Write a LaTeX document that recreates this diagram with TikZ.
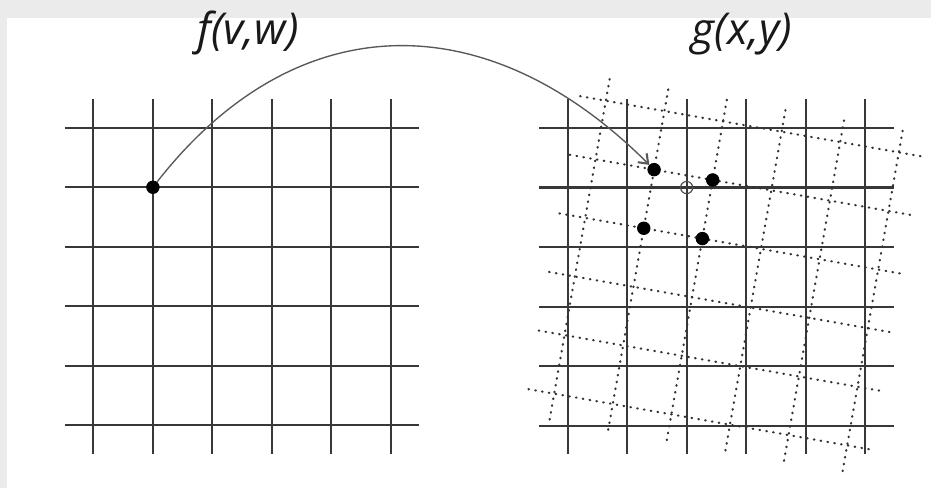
\documentclass[tikz,border=0pt]{standalone}
\usepackage{fontspec}
\setsansfont{Open Sans}
\usetikzlibrary{arrows.meta}
\begin{document}
\begin{tikzpicture}[
    gridSolid/.style={draw=black!78,line width=1pt},
    gridWarped/.style={draw=black!80,line width=1.05pt,line cap=round,
                       dash pattern=on 0.3pt off 3pt},
    sampleDot/.style={circle,fill=black,draw=black,
                      minimum size=6pt,inner sep=0pt},
    targetRing/.style={circle,draw=black!70,line width=0.55pt,
                       minimum size=5.8pt,inner sep=0pt},
    mapArrow/.style={draw=black!65,line width=0.65pt,
                     -{Straight Barb[length=4pt,width=6pt,line width=1pt]}},
    funLabel/.style={font=\sffamily\itshape\fontsize{21}{25}\selectfont,
                     text=black!90,anchor=base,inner sep=0pt}]
    % page and frame
    \fill[black!8] (0,0) rectangle (15.647,8.202);
    \fill[white] (0.118,0) rectangle (15.647,7.9);
    \useasboundingbox (0,0) rectangle (15.647,8.202);
    % the two regular grids
    \coordinate (gL) at (1.57,1.055);
    \coordinate (gR) at (9.54,1.05);
    \foreach \g in {gL,gR}{
        \foreach \k in {0,...,5}{
            \draw[gridSolid] (\g) ++(\k,-0.48) -- ++(0,5.96);
            \draw[gridSolid] (\g) ++(-0.48,\k) -- ++(5.96,0);
        }
    }
    % warped grid with its samples
    \begin{scope}[shift={(12.21,3.613)},rotate=-10]
        \foreach \k in {-2.5,-1.5,...,2.5}{
            \draw[gridWarped] (\k,-2.94) -- (\k,2.94);
            \draw[gridWarped] (-2.94,\k) -- (2.94,\k);
        }
        \node[sampleDot] (dst)  at (-1.5,1.5) {};
        \node[sampleDot] (nbE)  at (-0.5,1.5) {};
        \node[sampleDot] (nbS)  at (-1.5,0.5) {};
        \node[sampleDot] (nbSE) at (-0.5,0.5) {};
    \end{scope}
    \path (gL) ++(1,4) node[sampleDot] (src) {};
    \path (gR) ++(2,4) node[targetRing] (ring) {};
    \draw[mapArrow] (src) to[out=52,in=135,looseness=1.18] (dst);
    % labels
    \node[funLabel] (labF) at (4.17,7.46) {f(v,w)};
    \node[funLabel] (labG) at (12.47,7.46) {g(x,y)};
\end{tikzpicture}
\end{document}
